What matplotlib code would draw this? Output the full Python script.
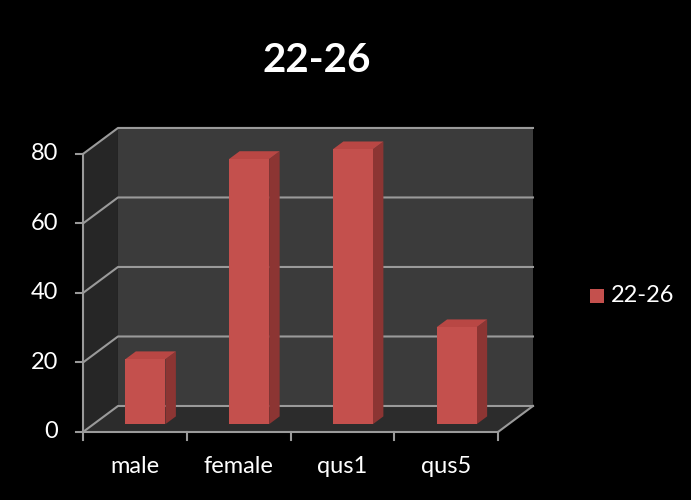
import numpy as np
import matplotlib.pyplot as plt
from matplotlib.patches import Polygon

# data
categories = ["male", "female", "qus1", "qus5"]
values = [18.7, 76.3, 79.1, 27.9]
series_name = "22-26"
yticks = [0, 20, 40, 60, 80]

plt.rcParams['font.family'] = ['Lato', 'DejaVu Sans']

# pseudo 3d: depth vector in data units (categories, value)
DX, DY = 0.337, 7.48
YMAX = 80
n = len(categories)

fig = plt.figure(figsize=(6.91, 5), dpi=100, facecolor='black')
ax = fig.add_axes([0, 0, 1, 1])
ax.set_facecolor('black')
ax.set_xlim(-0.8, 5.86)
ax.set_ylim(-19.57, 124.3)
ax.axis('off')


def poly(pts, fc, ec='none', lw=0, z=1):
    ax.add_patch(Polygon(pts, closed=True, fc=fc, ec=ec, lw=lw, zorder=z))


# walls
poly([(DX, DY), (n + DX, DY), (n + DX, YMAX + DY), (DX, YMAX + DY)], '#3b3b3b')
poly([(0, 0), (DX, DY), (DX, YMAX + DY), (0, YMAX)], '#262626')
poly([(0, 0), (n, 0), (n + DX, DY), (DX, DY)], '#2c2c2c')

grid_c = '#9a9a9a'
for v in yticks:
    ax.plot([0, DX, n + DX], [v, v + DY, v + DY], color=grid_c, lw=1.5, zorder=2)
ax.plot([n, n + DX], [0, DY], color=grid_c, lw=1.5, zorder=2)

# front axes
ax.plot([0, 0], [0, YMAX], color=grid_c, lw=1.5, zorder=5)
ax.plot([0, n], [0, 0], color=grid_c, lw=1.5, zorder=5)
for v in yticks:
    ax.plot([-0.07, 0], [v, v], color=grid_c, lw=1.5, zorder=5)
    ax.text(-0.24, v, str(v), color='white', fontsize=17, ha='right', va='center')
for i in range(n + 1):
    ax.plot([i, i], [0, -2.2], color=grid_c, lw=1.5, zorder=5)

# bars
bw = 0.386
d0, d1 = 0.3, 0.6
for i, (cat, v) in enumerate(zip(categories, values)):
    x0 = i + 0.5 - bw / 2 + d0 * DX
    b0 = d0 * DY
    x1 = x0 + bw
    sx, sy = (d1 - d0) * DX, (d1 - d0) * DY
    poly([(x1, b0), (x1 + sx, b0 + sy), (x1 + sx, b0 + sy + v), (x1, b0 + v)], '#8c3533', z=3)
    poly([(x0, b0 + v), (x1, b0 + v), (x1 + sx, b0 + v + sy), (x0 + sx, b0 + v + sy)], '#b94744', z=3)
    poly([(x0, b0), (x1, b0), (x1, b0 + v), (x0, b0 + v)], '#c4504d', z=4)
    ax.text(i + 0.5, -10, cat, color='white', fontsize=17, ha='center', va='center')

# title and legend
fig.text(0.458, 1 - 60 / 500, series_name, color='white', fontsize=29, fontweight='bold',
         ha='center', va='center')
fig.patches.append(plt.Rectangle((590 / 691, 1 - 303 / 500), 14 / 691, 14 / 500,
                                 transform=fig.transFigure, fc='#c4504d', ec='none'))
fig.text(611 / 691, 1 - 296 / 500, series_name, color='white', fontsize=17,
         ha='left', va='center')

plt.savefig('out.png', dpi=100, facecolor='black')
